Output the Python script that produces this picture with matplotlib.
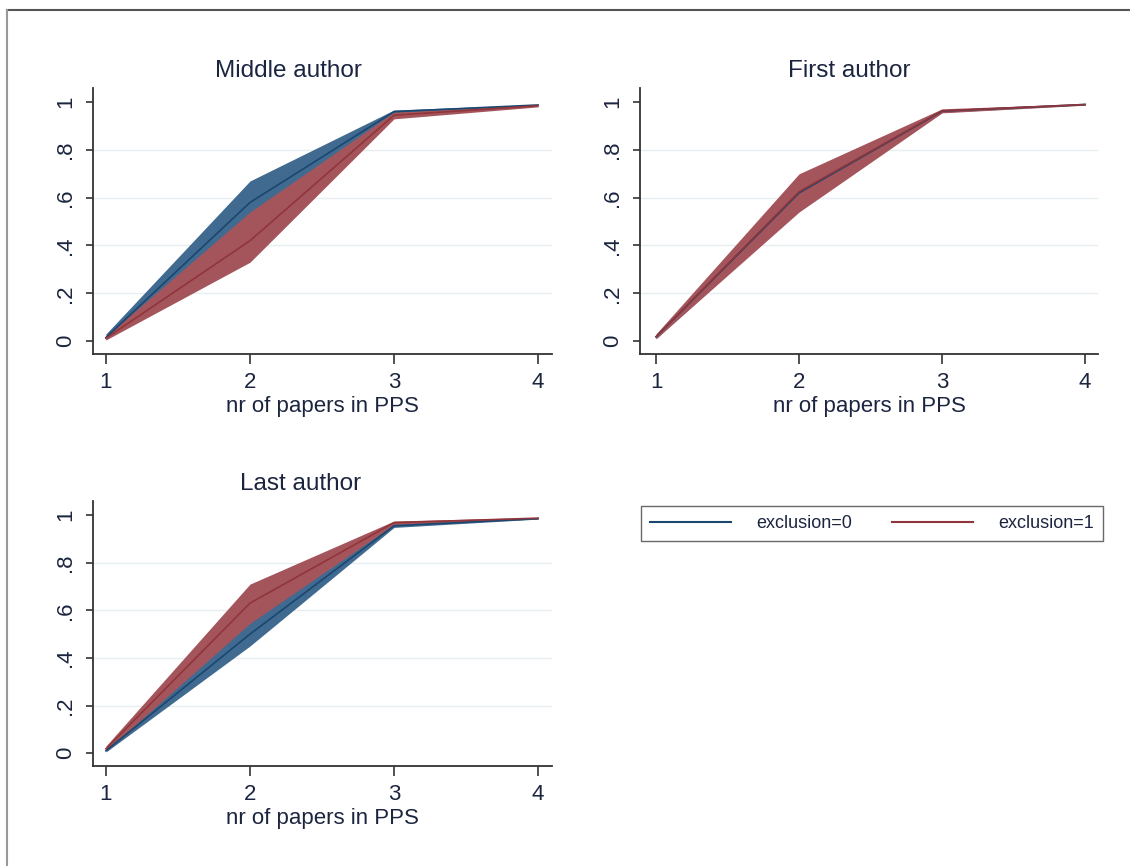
import matplotlib
matplotlib.use("Agg")
import matplotlib.pyplot as plt
from matplotlib.lines import Line2D

plt.rcParams['font.family'] = ['Liberation Sans', 'DejaVu Sans']

papers = [1, 2, 3, 4]

# Middle author
mid_mean0 = [0.015, 0.58, 0.96, 0.988]
mid_lo0 = [0.005, 0.47, 0.955, 0.985]
mid_hi0 = [0.03, 0.67, 0.967, 0.99]
mid_mean1 = [0.012, 0.42, 0.945, 0.985]
mid_lo1 = [0.005, 0.33, 0.93, 0.98]
mid_hi1 = [0.02, 0.54, 0.958, 0.988]

# First author
first_mean0 = [0.018, 0.62, 0.962, 0.99]
first_lo0 = [0.01, 0.55, 0.957, 0.988]
first_hi0 = [0.025, 0.68, 0.968, 0.992]
first_mean1 = [0.018, 0.625, 0.963, 0.99]
first_lo1 = [0.01, 0.54, 0.955, 0.987]
first_hi1 = [0.03, 0.70, 0.972, 0.993]

# Last author
last_mean0 = [0.01, 0.50, 0.955, 0.985]
last_lo0 = [0.005, 0.45, 0.948, 0.983]
last_hi0 = [0.02, 0.57, 0.962, 0.988]
last_mean1 = [0.018, 0.63, 0.968, 0.987]
last_lo1 = [0.01, 0.545, 0.96, 0.984]
last_hi1 = [0.03, 0.71, 0.975, 0.99]

ytick_vals = [0, 0.2, 0.4, 0.6, 0.8, 1]
ytick_labels = ["0", ".2", ".4", ".6", ".8", "1"]

BLUE_FILL = '#416a91'
RED_FILL = '#a4555b'
BLUE_LINE = '#1a476f'
RED_LINE = '#90353b'
TEXT = '#1c2540'

W, H = 1130, 866
fig = plt.figure(figsize=(W / 100, H / 100), dpi=100)


def px_axes(left, top, right, bottom):
    return fig.add_axes([left / W, 1 - bottom / H, (right - left) / W, (bottom - top) / H])


def panel(ax, title, title_x, m0, lo0, hi0, m1, lo1, hi1, xlim):
    ax.fill_between(papers, lo0, hi0, color=BLUE_FILL, lw=0, zorder=2)
    ax.fill_between(papers, lo1, hi1, color=RED_FILL, lw=0, zorder=3)
    ax.plot(papers, m0, color=BLUE_LINE, lw=1.2, zorder=4)
    ax.plot(papers, m1, color=RED_LINE, lw=1.2, zorder=5)
    ax.set_xlim(*xlim)
    ax.set_ylim(-0.054, 1.059)
    ax.set_xticks(papers)
    ax.set_yticks(ytick_vals)
    ax.set_yticklabels(ytick_labels, rotation=90, va='center')
    for v in ytick_vals[1:-1]:
        ax.axhline(v, color='#e6eef0', lw=1, zorder=1)
    for s in ['top', 'right']:
        ax.spines[s].set_visible(False)
    for s in ['left', 'bottom']:
        ax.spines[s].set_color('#333333')
        ax.spines[s].set_linewidth(1.3)
    ax.tick_params(axis='x', length=7, width=1.2, colors='#333333', labelcolor=TEXT,
                   labelsize=16, pad=6)
    ax.tick_params(axis='y', length=5, width=1.2, colors='#333333', labelcolor=TEXT,
                   labelsize=16, pad=7)
    ax.set_xlabel("nr of papers in PPS", fontsize=16, color=TEXT, labelpad=2)
    ax.set_title(title, fontsize=17.5, color=TEXT, pad=8,
                 x=(title_x / W - ax.get_position().x0) / ax.get_position().width)


ax1 = px_axes(93, 88, 552, 354)
panel(ax1, "Middle author", 288, mid_mean0, mid_lo0, mid_hi0, mid_mean1, mid_lo1, mid_hi1,
      (0.91, 4.097))

ax2 = px_axes(640, 88, 1098, 354)
panel(ax2, "First author", 849, first_mean0, first_lo0, first_hi0, first_mean1, first_lo1, first_hi1,
      (0.888, 4.09))

ax3 = px_axes(93, 501, 552, 766)
panel(ax3, "Last author", 301, last_mean0, last_lo0, last_hi0, last_mean1, last_lo1, last_hi1,
      (0.91, 4.097))

handles = [Line2D([], [], color=BLUE_LINE, lw=1.5), Line2D([], [], color=RED_LINE, lw=1.5)]
leg = fig.legend(handles, ["exclusion=0", "exclusion=1"], ncol=2, mode='expand',
                 bbox_to_anchor=(641 / W, 1 - 541 / H, (1103 - 641) / W, 41 / H),
                 loc='lower left', fontsize=13, handlelength=4.5, frameon=True,
                 fancybox=False, borderaxespad=0, columnspacing=1.6, handletextpad=1.4,
                 borderpad=0.5)
leg.get_frame().set_edgecolor('#444444')
leg.get_frame().set_linewidth(1.0)
for t in leg.get_texts():
    t.set_color(TEXT)

# outer graph frame (top and left edges visible)
fig.add_artist(Line2D([7 / W, 1], [1 - 9.5 / H, 1 - 9.5 / H], color='#555555', lw=1.5))
fig.add_artist(Line2D([7 / W, 7 / W], [0, 1 - 9.5 / H], color='#999999', lw=1.5))

fig.savefig("out.png", dpi=100)
